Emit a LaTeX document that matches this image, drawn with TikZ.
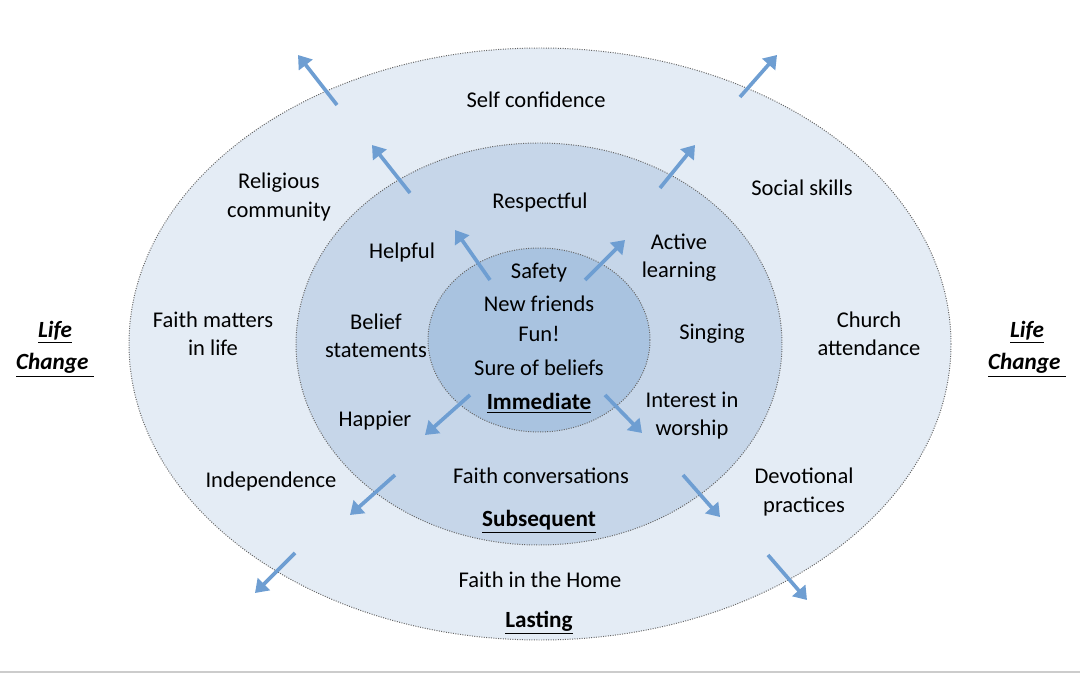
\documentclass[tikz,border=0pt]{standalone}
\usepackage{fontspec}
\setmainfont{Carlito}
\usetikzlibrary{arrows.meta}
\definecolor{outerc}{HTML}{E4ECF5}
\definecolor{midc}{HTML}{C6D6E9}
\definecolor{innc}{HTML}{A9C3E0}
\definecolor{arr}{HTML}{6E9ED2}
\tikzset{
 ring/.style={draw=gray!80!black, densely dotted, line width=0.7pt},
 arw/.style={draw=arr, line width=2.6pt, -{Triangle[length=9pt,width=12pt]}},
 lbl/.style={font=\fontsize{16}{20}\selectfont, align=center, inner sep=0pt},
 ttl/.style={font=\fontsize{16.5}{20}\selectfont\bfseries, align=center, inner sep=0pt},
}
\begin{document}
\begin{tikzpicture}[x=0.025cm,y=-0.025cm]
\useasboundingbox (0,0) rectangle (1080,675);
\fill[white] (0,0) rectangle (1080,675);
\draw[gray!40, line width=0.8pt] (0,672) -- (1080,672);
\draw[ring, fill=outerc] (540,344) ellipse [x radius=411, y radius=296];
\draw[ring, fill=midc] (539,344) ellipse [x radius=243, y radius=201];
\draw[ring, fill=innc] (539,340) ellipse [x radius=111, y radius=92];
% arrows
\coordinate (a1s) at (490,280); \coordinate (a1e) at (455,230);
\coordinate (a2s) at (585,280); \coordinate (a2e) at (625,240);
\coordinate (a3s) at (470,395); \coordinate (a3e) at (425,435);
\coordinate (a4s) at (605,395); \coordinate (a4e) at (642,433);
\coordinate (b1s) at (410,193); \coordinate (b1e) at (372,145);
\coordinate (b2s) at (660,188); \coordinate (b2e) at (695,145);
\coordinate (b3s) at (395,475); \coordinate (b3e) at (350,515);
\coordinate (b4s) at (683,475); \coordinate (b4e) at (720,517);
\coordinate (c1s) at (337,105); \coordinate (c1e) at (298,55);
\coordinate (c2s) at (740,97); \coordinate (c2e) at (777,55);
\coordinate (c3s) at (295,553); \coordinate (c3e) at (255,593);
\coordinate (c4s) at (768,555); \coordinate (c4e) at (807,600);
\foreach \p in {a1,a2,a3,a4,b1,b2,b3,b4,c1,c2,c3,c4} \draw[arw] (\p s) -- (\p e);
% labels
\node[lbl] (t1) at (536,100) {Self confidence};
\node[lbl] (t2) at (279,197) {Religious\\community};
\node[lbl] (t3) at (802,188) {Social skills};
\node[lbl] (t4) at (540,203) {Respectful};
\node[lbl] (t5) at (402,253) {Helpful};
\node[lbl] (t6) at (679,258) {Active\\learning};
\node[lbl] (t7) at (539,273) {Safety};
\node[lbl] (t8) at (539,304) {New friends};
\node[lbl] (t9) at (539,334) {Fun!};
\node[lbl] (t10) at (539,368) {Sure of beliefs};
\node[lbl] (t11) at (213,334) {Faith matters\\in life};
\node[lbl] (t12) at (376,336) {Belief\\statements};
\node[lbl] (t13) at (712,334) {Singing};
\node[lbl] (t14) at (869,334) {Church\\attendance};
\node[ttl] (t15) at (539,403) {\underline{Immediate}};
\node[lbl] (t16) at (375,421) {Happier};
\node[lbl] (t17) at (692,416) {Interest in\\worship};
\node[lbl] (t18) at (271,482) {Independence};
\node[lbl] (t19) at (541,476) {Faith conversations};
\node[lbl] (t20) at (804,492) {Devotional\\practices};
\node[ttl] (t21) at (539,522) {\underline{Subsequent}};
\node[lbl] (t22) at (540,580) {Faith in the Home};
\node[ttl] (t23) at (539,623) {\underline{Lasting}};
\node[ttl,font=\fontsize{16.5}{23}\selectfont\bfseries\itshape] (t24) at (55,349) {\underline{Life}\\\underline{Change\ }};
\node[ttl,font=\fontsize{16.5}{23}\selectfont\bfseries\itshape] (t25) at (1027,349) {\underline{Life}\\\underline{Change\ }};
\end{tikzpicture}
\end{document}
